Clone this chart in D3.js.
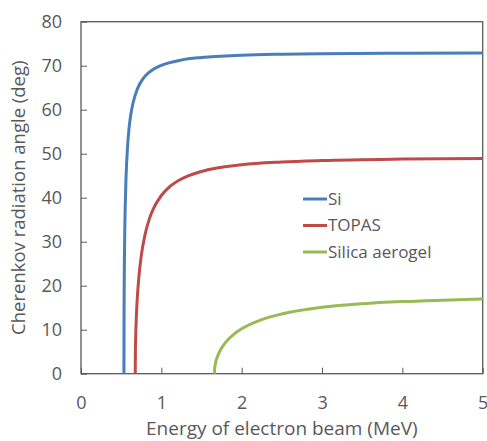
<!DOCTYPE html>
<html>
<head>
<meta charset="utf-8">
<script src="https://cdn.jsdelivr.net/npm/d3@7"></script>
<style>
  body { margin: 0; background: #fff; }
  text { font-family: "Open Sans", sans-serif; fill: #595959; }
</style>
</head>
<body>
<script>
// energy (MeV), angle (deg)
var siE      = [0.5345, 0.536, 0.54, 0.545, 0.55, 0.56, 0.58, 0.6, 0.62, 0.65, 0.7, 0.75, 0.8, 0.9, 1.0, 1.25, 1.5, 2, 2.5, 3, 4, 5];
var siAngle  = [0, 14.2, 25.2, 32.7, 37.7, 44.3, 51.8, 56.1, 58.9, 61.7, 64.65, 66.44, 67.65, 69.18, 70.1, 71.3, 71.87, 72.39, 72.61, 72.73, 72.84, 72.9];
var topasE     = [0.6752, 0.677, 0.68, 0.69, 0.7, 0.72, 0.75, 0.8, 0.85, 0.9, 1.0, 1.1, 1.25, 1.5, 2, 2.5, 3, 4, 5];
var topasAngle = [0, 4.86, 7.84, 13.43, 17.0, 21.9, 26.77, 31.85, 35.13, 37.44, 40.5, 42.44, 44.26, 45.96, 47.47, 48.11, 48.45, 48.78, 48.93];
var aeroE     = [1.6606, 1.663, 1.67, 1.7, 1.75, 1.8, 1.9, 2.0, 2.25, 2.5, 3, 3.5, 4, 4.5, 5];
var aeroAngle = [0, 0.99, 1.97, 3.97, 5.83, 7.11, 8.93, 10.22, 12.31, 13.58, 15.09, 15.91, 16.4, 16.71, 16.96];
var seriesNames = ["Si", "TOPAS", "Silica aerogel"];
var xTicks = [0, 1, 2, 3, 4, 5];
var yTicks = [0, 10, 20, 30, 40, 50, 60, 70, 80];

var colors = ["#4a7ebb", "#be4b48", "#98b954"];
var width = 487, height = 441;
var margin = {left: 81, top: 21.7, right: 4.3, bottom: 67.3};

var svg = d3.select("body").append("svg").attr("width", width).attr("height", height);

var x = d3.scaleLinear().domain([0, 5]).range([margin.left, width - margin.right]);
var y = d3.scaleLinear().domain([0, 80]).range([height - margin.bottom, margin.top]);

var series = [
  d3.zip(siE, siAngle),
  d3.zip(topasE, topasAngle),
  d3.zip(aeroE, aeroAngle)
];

// axes (ticks point inward)
var xAxis = svg.append("g")
  .attr("transform", "translate(0," + y(0) + ")")
  .call(d3.axisBottom(x).tickValues(xTicks).tickSize(-6).tickPadding(23).tickFormat(d3.format("d")));
var yAxis = svg.append("g")
  .attr("transform", "translate(" + x(0) + ",0)")
  .call(d3.axisLeft(y).tickValues(yTicks).tickSize(-6).tickPadding(19).tickFormat(d3.format("d")));
[xAxis, yAxis].forEach(function (a) {
  a.select(".domain").remove();
  a.selectAll("line").attr("stroke", "#595959");
  a.selectAll("text").style("font-size", "18px").attr("fill", "#595959");
});

// frame
svg.append("rect")
  .attr("x", x(0)).attr("y", y(80))
  .attr("width", x(5) - x(0)).attr("height", y(0) - y(80))
  .attr("fill", "none").attr("stroke", "#595959").attr("stroke-width", 1.3);

var line = d3.line()
  .x(function (d) { return x(d[0]); })
  .y(function (d) { return y(d[1]); })
  .curve(d3.curveMonotoneX);

svg.selectAll("path.curve")
  .data(series)
  .enter()
  .append("path")
  .attr("class", "curve")
  .attr("d", line)
  .attr("fill", "none")
  .attr("stroke", function (d, i) { return colors[i]; })
  .attr("stroke-width", 3);

// legend
var leg = svg.append("g").attr("transform", "translate(303,199)");
seriesNames.forEach(function (name, i) {
  leg.append("line")
    .attr("x1", 0).attr("x2", 24)
    .attr("y1", i * 26.5).attr("y2", i * 26.5)
    .attr("stroke", colors[i]).attr("stroke-width", 3);
  leg.append("text")
    .attr("x", 25).attr("y", i * 26.5)
    .attr("dy", "0.35em")
    .style("font-size", "17px")
    .text(name);
});

// axis titles
svg.append("text")
  .attr("x", (x(0) + x(5)) / 2).attr("y", 435)
  .attr("text-anchor", "middle")
  .style("font-size", "19px")
  .text("Energy of electron beam (MeV)");
svg.append("text")
  .attr("transform", "translate(25," + (y(0) + y(80)) / 2 + ") rotate(-90)")
  .attr("text-anchor", "middle")
  .style("font-size", "18.5px")
  .text("Cherenkov radiation angle (deg)");
</script>
</body>
</html>
